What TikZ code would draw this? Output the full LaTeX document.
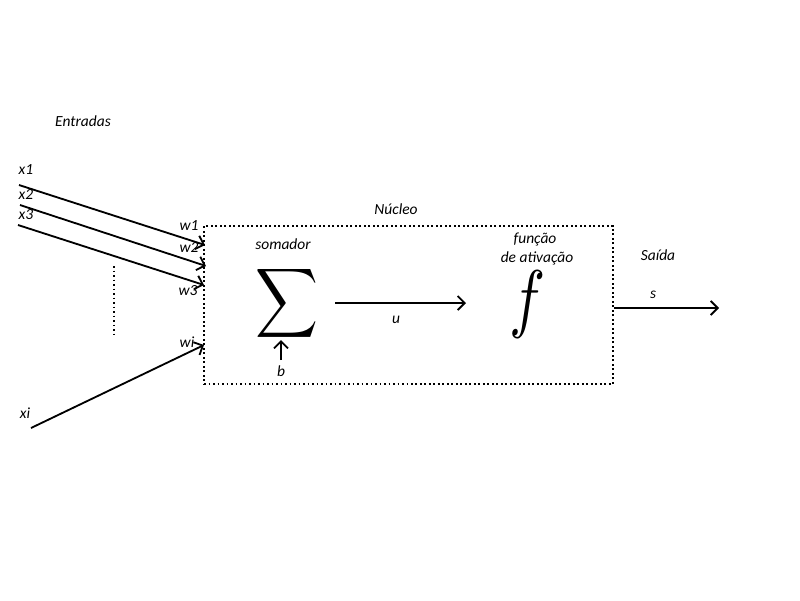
\documentclass[tikz,border=0pt]{standalone}
\usepackage{fontspec}
\setmainfont{Carlito}
\usepackage{graphicx}
\usetikzlibrary{arrows.meta}

\begin{document}
\begin{tikzpicture}
		[x=0.025cm, y=-0.025cm, lbl/.style = {font=\fontsize{11}{13}\selectfont\itshape, inner sep=0pt},
		 wire/.style = {line width=1.3pt, -{Straight Barb[length=5pt, width=10pt]}},
		 box/.style = {draw, dotted, line width=1.2pt}]
	\useasboundingbox (0,0) rectangle (800,600);
	% labels
	\node[lbl] (entradas) at (83,121) {Entradas};
	\node[lbl] (x1) at (26,170) {x1};
	\node[lbl] (x2) at (26,194) {x2};
	\node[lbl] (x3) at (26,215) {x3};
	\node[lbl] (xi) at (25,413) {xi};
	\node[lbl] (w1) at (189,226) {w1};
	\node[lbl] (w2) at (189,247) {w2};
	\node[lbl] (w3) at (188,291) {w3};
	\node[lbl] (wi) at (187,342) {wi};
	\node[lbl] (nucleo) at (396,209) {Núcleo};
	\node[lbl] (somador) at (283,244) {somador};
	\node[lbl] (funcao) at (535,239) {função};
	\node[lbl] (ativacao) at (537,258) {de ativação};
	\node[lbl] (saida) at (658,255) {Saída};
	\node[lbl] (u) at (396,320) {u};
	\node[lbl] (b) at (281,371) {b};
	\node[lbl] (s) at (653,295) {s};
	% somador e f
	\node[inner sep=0pt] (sigma) at (287,303) {\scalebox{3.1}[3.45]{$\displaystyle\sum$}};
	\node[inner sep=0pt] (f) at (528,305) {\scalebox{4.3}[5.4]{$f$}};
	% nucleo
	\node[box, minimum width=409*0.025cm, minimum height=158*0.025cm, inner sep=0pt] (core) at (408.5,305) {};
	\draw[dotted, line width=1.2pt] (114,266) -- (114,334);
	% entradas
	\coordinate (a1) at (19,185); \coordinate (b1) at (205,245);
	\coordinate (a2) at (20,205); \coordinate (b2) at (206,266);
	\coordinate (a3) at (18,225); \coordinate (b3) at (204,285);
	\coordinate (ai) at (31,428); \coordinate (bi) at (204,345);
	\draw[wire] (a1) -- (b1);
	\draw[wire] (a2) -- (b2);
	\draw[wire] (a3) -- (b3);
	\draw[wire] (ai) -- (bi);
	% dentro
	\coordinate (bb) at (281,360); \coordinate (bt) at (281,340);
	\draw[wire] (bb) -- (bt);
	\coordinate (u1) at (335,303); \coordinate (u2) at (466,303);
	\draw[wire] (u1) -- (u2);
	\coordinate (out) at (719,308);
	\draw[wire] (core.east |- out) -- (out);
\end{tikzpicture}
\end{document}
